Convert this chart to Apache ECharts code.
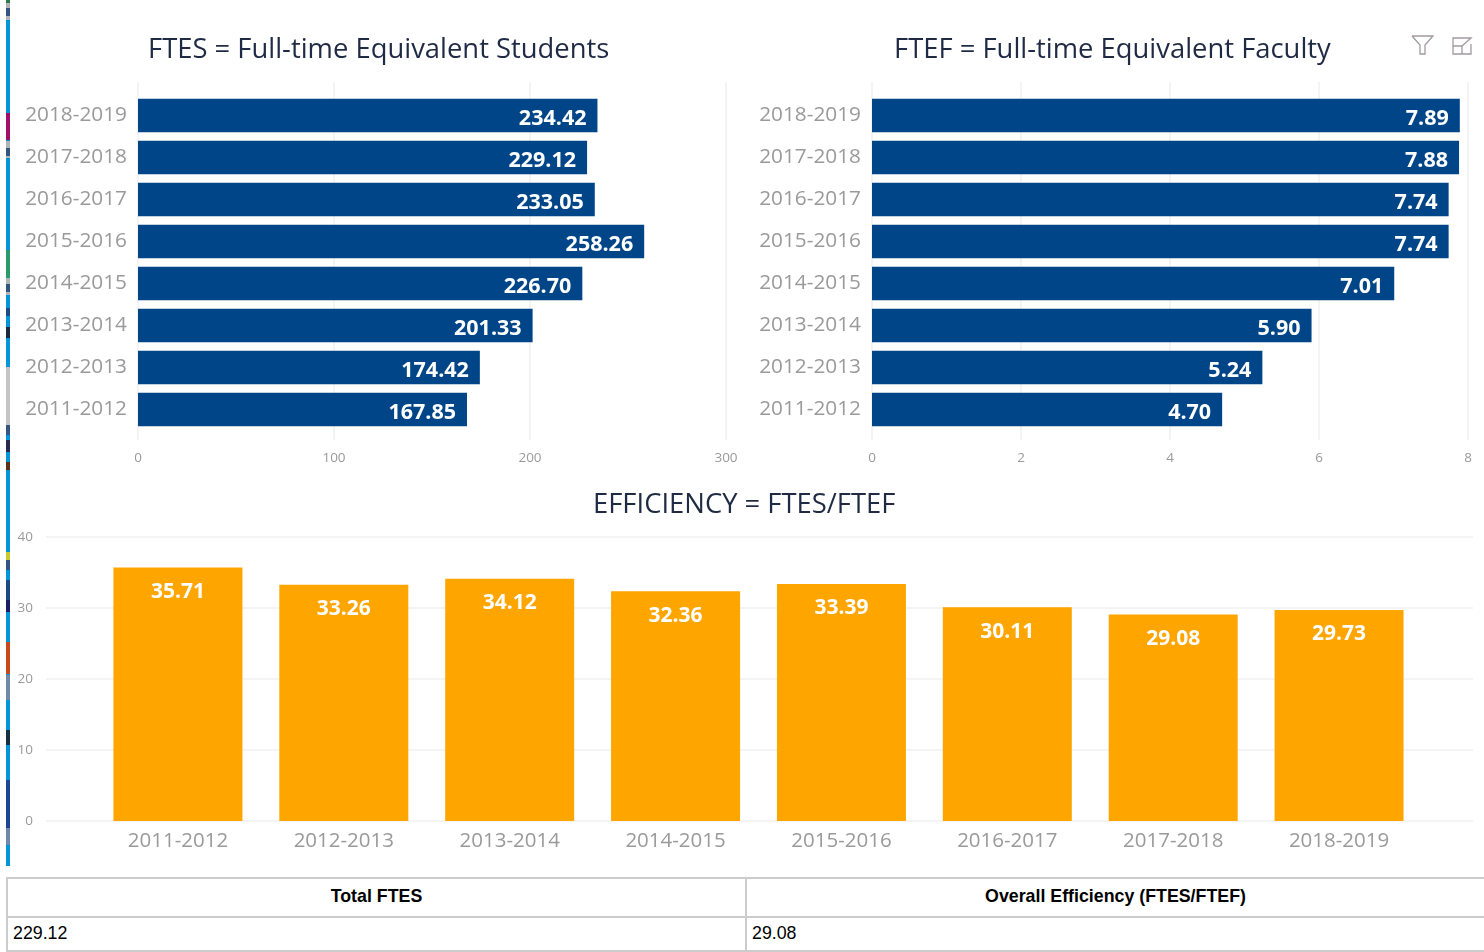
<!DOCTYPE html>
<html>
<head>
<meta charset="utf-8">
<title>FTES / FTEF</title>
<script src="https://cdn.jsdelivr.net/npm/echarts@6/dist/echarts.min.js"></script>
<style>
html, body { margin: 0; padding: 0; background: #fff; overflow: hidden; }
#main { position: absolute; left: 0; top: 0; width: 1484px; height: 870px; }
#summary { position: absolute; left: 6px; top: 877px; width: 1480px; border-collapse: collapse; table-layout: fixed;
    font-family: "Liberation Sans", Arial, sans-serif; font-size: 17.8px; color: #000; }
#summary td, #summary th { border: 2px solid #ccc; padding: 0 5px 2px 5px; }
#summary th { height: 35px; font-weight: bold; }
#summary td { height: 30px; }
</style>
</head>
<body>
<div id="main"></div>
<table id="summary">
    <tr><th id="h1"></th><th id="h2"></th></tr>
    <tr><td id="v1"></td><td id="v2"></td></tr>
</table>
<script>
// years, top to bottom on the horizontal bars
var yearsDesc = ['2018-2019','2017-2018','2016-2017','2015-2016','2014-2015','2013-2014','2012-2013','2011-2012'];
var ftesValues = [234.42,229.12,233.05,258.26,226.70,201.33,174.42,167.85];
var ftefValues = [7.89,7.88,7.74,7.74,7.01,5.90,5.24,4.70];
var yearsAsc = ['2011-2012','2012-2013','2013-2014','2014-2015','2015-2016','2016-2017','2017-2018','2018-2019'];
var efficiencyValues = [35.71,33.26,34.12,32.36,33.39,30.11,29.08,29.73];
var summaryHeaders = ['Total FTES','Overall Efficiency (FTES/FTEF)'];
var summaryValues = ['229.12','29.08'];

document.getElementById('h1').textContent = summaryHeaders[0];
document.getElementById('h2').textContent = summaryHeaders[1];
document.getElementById('v1').textContent = summaryValues[0];
document.getElementById('v2').textContent = summaryValues[1];
document.getElementById('h1').style.width = '727px';

var font = '"Open Sans", "Noto Sans", sans-serif';
var gridColor = '#f0f0f0';
var tickColor = '#9a9a9a';
var blue = '#004587';
var orange = '#ffa500';

// 背景 grid 画网格线和刻度, 前面的 grid 画柱子
function backAxis(grid, max, interval, margin, pad) {
    return {
        type: 'value', gridIndex: grid, min: 0, max: max, interval: interval,
        axisLine: {show: false}, axisTick: {show: false},
        axisLabel: {color: tickColor, fontFamily: font, fontSize: 13.5, margin: margin, hideOverlap: false, padding: pad},
        splitLine: {lineStyle: {color: gridColor, width: 1.5}}
    };
}
function hiddenValue(grid, max) {
    return {type: 'value', gridIndex: grid, min: 0, max: max, show: false};
}
function yearAxis(grid, data, inverse, margin, size, pad) {
    return {
        type: 'category', gridIndex: grid, data: data, inverse: inverse,
        axisLine: {show: false}, axisTick: {show: false},
        axisLabel: {color: tickColor, fontFamily: font, fontSize: size, margin: margin, interval: 0, padding: pad},
        splitLine: {show: false}
    };
}
function barSeries(x, y, data, color, width, label) {
    return {
        type: 'bar', xAxisIndex: x, yAxisIndex: y, data: data, barWidth: width, silent: true,
        itemStyle: {color: color},
        label: label
    };
}
function valueLabel(position, offset, size) {
    return {
        show: true, position: position, offset: offset, color: '#fff',
        fontFamily: font, fontWeight: 'bold', fontSize: size,
        formatter: function (p) { return p.value.toFixed(2); }
    };
}
function titleAt(text, left, top) {
    return {text: text, left: left, top: top,
        textStyle: {color: '#1f2a44', fontFamily: font, fontWeight: 'normal', fontSize: 27.4}};
}

// left edge of the screenshot: blue stripe with bits of the page behind it
var stripeBits = [
    [0,3,'#2a7a4a'],[3,20,'#b0b4b8'],[8,16,'#33557f'],[113,140,'#a0106a'],[141,158,'#b0b4b8'],
    [148,156,'#33557f'],[250,278,'#2a9a6a'],[278,295,'#b0b4b8'],[284,292,'#33557f'],[308,316,'#1a4a80'],
    [327,338,'#1c2a40'],[367,425,'#c4c4c4'],[425,435,'#33557f'],[440,452,'#2a2a50'],[462,470,'#5a3018'],
    [552,560,'#c8c830'],[560,570,'#33557f'],[580,600,'#1a4a80'],[600,612,'#1c1c60'],[642,674,'#c8491c'],
    [675,700,'#6f8aa8'],[730,745,'#153040'],[780,828,'#1c4690'],[828,845,'#6f8aa8']
];
var stripe = [{type: 'rect', shape: {x: 6, y: 0, width: 4, height: 866}, style: {fill: '#0095d9'}}];
stripeBits.forEach(function (b) {
    stripe.push({type: 'rect', shape: {x: 6, y: b[0], width: 4, height: b[1] - b[0]}, style: {fill: b[2]}});
});

var iconStyle = {fill: 'none', stroke: '#a09aa0', lineWidth: 1.3};

var option = {
    animation: false,
    backgroundColor: '#fff',
    title: [
        titleAt('FTES = Full-time Equivalent Students', 143, 32),
        titleAt('FTEF = Full-time Equivalent Faculty', 889, 32),
        titleAt('EFFICIENCY = FTES/FTEF', 588, 487)
    ],
    grid: [
        {left: 138, width: 588, top: 82, height: 358},
        {left: 138, width: 588, top: 94.5, height: 336},
        {left: 872, width: 596, top: 82, height: 358},
        {left: 872, width: 596, top: 94.5, height: 336},
        {left: 46, width: 1427, top: 537, height: 284},
        {left: 95, width: 1327, top: 537, height: 284}
    ],
    xAxis: [
        backAxis(0, 300, 100, 11, 0),
        hiddenValue(1, 300),
        backAxis(2, 8, 2, 11, 0),
        hiddenValue(3, 8),
        {type: 'category', gridIndex: 4, data: [''], show: false},
        yearAxis(5, yearsAsc, false, 10, 20.5, 0)
    ],
    yAxis: [
        {type: 'category', gridIndex: 0, data: [''], show: false},
        yearAxis(1, yearsDesc, true, 11, 20.8, [4, 0, 0, 0]),
        {type: 'category', gridIndex: 2, data: [''], show: false},
        yearAxis(3, yearsDesc, true, 11, 20.8, [4, 0, 0, 0]),
        backAxis(4, 40, 10, 13, [4, 0, 0, 0]),
        hiddenValue(5, 40)
    ],
    series: [
        barSeries(1, 1, ftesValues, blue, 33.5, valueLabel('insideRight', [-6, 3], 21.5)),
        barSeries(3, 3, ftefValues, blue, 33.5, valueLabel('insideRight', [-6, 3], 21.5)),
        barSeries(5, 5, efficiencyValues, orange, 129, valueLabel('insideTop', [0, 9], 21))
    ],
    graphic: stripe.concat([
        // filter icon
        {type: 'polyline', shape: {points: [[1412,36],[1433,36],[1425,45],[1425,54],[1420,54],[1420,45],[1412,36]]}, style: iconStyle},
        // focus mode icon
        {type: 'polyline', shape: {points: [[1466,38],[1453,38],[1453,54],[1471,54],[1471,44]]}, style: iconStyle},
        {type: 'polyline', shape: {points: [[1453,46],[1462,46],[1462,54]]}, style: iconStyle},
        {type: 'polyline', shape: {points: [[1462,46],[1471,38],[1466,38]]}, style: iconStyle}
    ])
};

var myChart = echarts.init(document.getElementById('main'));
myChart.setOption(option);
</script>
</body>
</html>
